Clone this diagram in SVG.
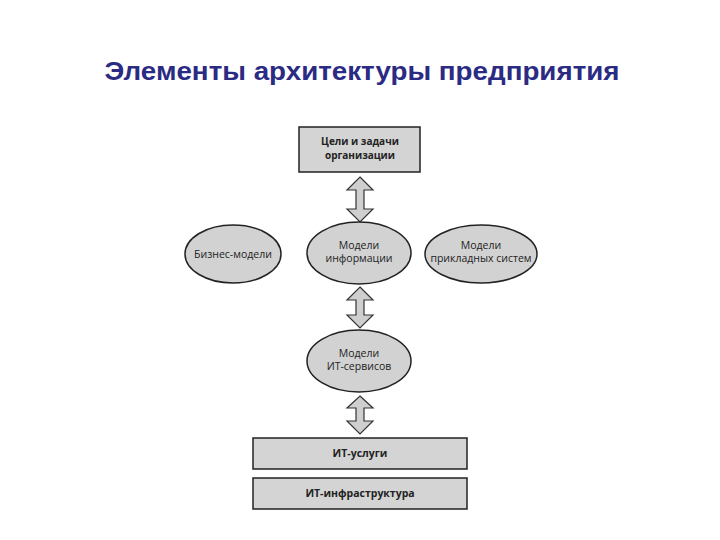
<svg xmlns="http://www.w3.org/2000/svg" width="720" height="540" viewBox="0 0 720 540">
<defs>
<style>
.box{fill:#d4d4d4;stroke:#222;stroke-width:1.5}
.ell{fill:#d2d2d2;stroke:#222;stroke-width:1.5}
.arr{fill:#cfcfcf;stroke:#333;stroke-width:1.2;stroke-linejoin:miter}
.t{font-family:"Open Sans","Liberation Sans",sans-serif;font-size:10.5px;fill:#222;text-anchor:middle}
.s{font-size:10px}
.b{font-weight:bold}
.title{font-family:"Liberation Sans",sans-serif;font-weight:bold;font-size:26px;fill:#2b2b84;text-anchor:middle}
</style>
</defs>
<rect width="720" height="540" fill="#fff"/>
<text class="title" x="362" y="80" textLength="515" lengthAdjust="spacingAndGlyphs">Элементы архитектуры предприятия</text>

<g id="connectors">
<path class="arr" d="M360,177 L373,190 L364,190 L364,209 L373,209 L360,222 L347,209 L356,209 L356,190 L347,190 Z"/>
<path class="arr" d="M360,287 L373,300 L364,300 L364,315 L373,315 L360,328 L347,315 L356,315 L356,300 L347,300 Z"/>
<path class="arr" d="M360,396 L373,408 L364,408 L364,421 L373,421 L360,434 L347,421 L356,421 L356,408 L347,408 Z"/>
</g>

<g id="goals">
<rect class="box" x="299" y="127" width="121" height="45"/>
<text class="t b s" x="360" y="145">Цели и задачи</text>
<text class="t b s" x="360" y="158.5">организации</text>
</g>

<g id="business">
<ellipse class="ell" cx="233" cy="254" rx="48" ry="29"/>
<text class="t" x="233" y="258">Бизнес-модели</text>
</g>

<g id="info">
<ellipse class="ell" cx="359" cy="253" rx="52" ry="31"/>
<text class="t" x="359" y="249">Модели</text>
<text class="t" x="359" y="262">информации</text>
</g>

<g id="apps">
<ellipse class="ell" cx="481" cy="254" rx="56" ry="29"/>
<text class="t" x="481" y="249">Модели</text>
<text class="t" x="481" y="262">прикладных систем</text>
</g>

<g id="itsvc">
<ellipse class="ell" cx="359" cy="361" rx="52" ry="31"/>
<text class="t" x="359" y="357">Модели</text>
<text class="t" x="359" y="370">ИТ-сервисов</text>
</g>

<g id="itservices">
<rect class="box" x="253" y="438" width="214" height="31"/>
<text class="t b" x="360" y="457">ИТ-услуги</text>
</g>

<g id="infra">
<rect class="box" x="253" y="478" width="214" height="31"/>
<text class="t b" x="360" y="497">ИТ-инфраструктура</text>
</g>
</svg>
